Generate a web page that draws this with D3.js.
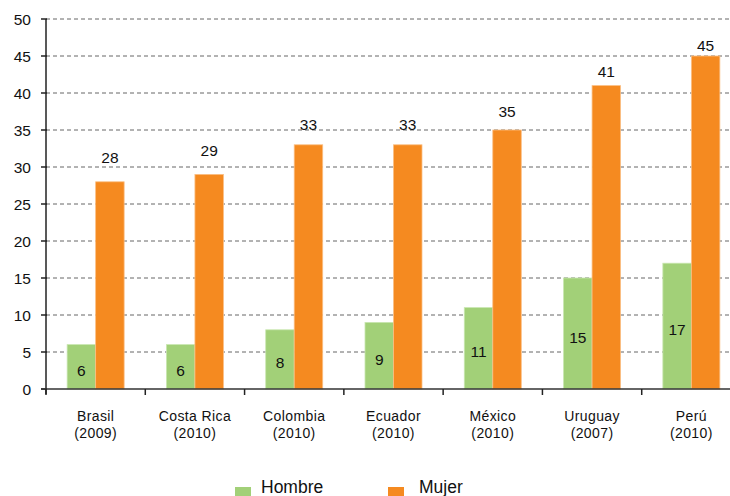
<!DOCTYPE html>
<html>
<head>
<meta charset="utf-8">
<script src="https://cdn.jsdelivr.net/npm/d3@7"></script>
<style>
  body { margin: 0; background: #fff; }
  svg { display: block; font-family: "Liberation Sans", Arial, sans-serif; }
  .grid line { stroke: #666; stroke-dasharray: 4 3; stroke-width: 1; }
</style>
</head>
<body>
<svg id="chart"></svg>
<script>
const countries = ['Brasil', 'Costa Rica', 'Colombia', 'Ecuador', 'México', 'Uruguay', 'Perú'];
const years = ['(2009)', '(2010)', '(2010)', '(2010)', '(2010)', '(2007)', '(2010)'];
const hombre = [6, 6, 8, 9, 11, 15, 17];
const mujer = [28, 29, 33, 33, 35, 41, 45];
const yTicks = [0, 5, 10, 15, 20, 25, 30, 35, 40, 45, 50];
const series = ['Hombre', 'Mujer'];
const colors = { Hombre: '#a2d078', Mujer: '#f58a20' };

const width = 730;
const height = 496;
const margin = { left: 46, top: 19, bottom: 107 };
const plotRight = 741; // last band runs past the window edge

const svg = d3.select('#chart').attr('width', width).attr('height', height);

const x0 = d3.scaleBand().domain(countries).range([margin.left, plotRight]);
const x1 = d3.scaleBand().domain(series).range([0, x0.bandwidth()])
  .paddingOuter(0.742).paddingInner(0);
const y = d3.scaleLinear().domain([0, 50]).range([height - margin.bottom, margin.top]);

// dashed gridlines
svg.append('g')
  .attr('class', 'grid')
  .selectAll('line')
  .data(yTicks.filter(t => t > 0))
  .join('line')
  .attr('x1', margin.left)
  .attr('x2', width)
  .attr('y1', d => y(d))
  .attr('y2', d => y(d));

const rows = countries.map((c, i) => ({ country: c, year: years[i], Hombre: hombre[i], Mujer: mujer[i] }));

const group = svg.append('g')
  .selectAll('g')
  .data(rows)
  .join('g')
  .attr('transform', d => `translate(${x0(d.country)},0)`);

group.selectAll('rect')
  .data(d => series.map(s => ({ key: s, value: d[s] })))
  .join('rect')
  .attr('x', d => x1(d.key))
  .attr('width', x1.bandwidth())
  .attr('y', d => y(d.value))
  .attr('height', d => y(0) - y(d.value))
  .attr('fill', d => colors[d.key])
  .attr('stroke', d => d.key === 'Hombre' ? '#c9e6b0' : '#fbbf84')
  .attr('stroke-width', 0.8);

// hombre labels sit inside the bar, mujer labels above
group.append('text')
  .attr('x', x1('Hombre') + x1.bandwidth() / 2)
  .attr('y', d => y(d.Hombre / 2) + 9)
  .attr('text-anchor', 'middle')
  .attr('font-size', 15.5)
  .attr('fill', '#111')
  .text(d => d.Hombre);

group.append('text')
  .attr('x', x1('Mujer') + x1.bandwidth() / 2)
  .attr('y', d => y(d.Mujer) - 5 - (45 - d.Mujer) * 0.82)
  .attr('text-anchor', 'middle')
  .attr('font-size', 15.5)
  .attr('fill', '#111')
  .text(d => d.Mujer);

// y axis
const yAxis = svg.append('g');
yAxis.append('line')
  .attr('x1', margin.left).attr('x2', margin.left)
  .attr('y1', y(50)).attr('y2', y(0) + 5)
  .attr('stroke', '#222').attr('stroke-width', 1.5);
yAxis.selectAll('.tick')
  .data(yTicks)
  .join('line')
  .attr('x1', margin.left - 5).attr('x2', margin.left + 1)
  .attr('y1', d => y(d)).attr('y2', d => y(d))
  .attr('stroke', '#222').attr('stroke-width', 1.5);
yAxis.selectAll('text')
  .data(yTicks)
  .join('text')
  .attr('x', 31)
  .attr('y', d => y(d))
  .attr('dy', '0.36em')
  .attr('text-anchor', 'end')
  .attr('font-size', 15.5)
  .attr('fill', '#111')
  .text(d => d);

// x axis
const xAxis = svg.append('g');
xAxis.append('line')
  .attr('x1', margin.left - 5).attr('x2', width)
  .attr('y1', y(0)).attr('y2', y(0))
  .attr('stroke', '#333').attr('stroke-width', 1.5);
xAxis.selectAll('.tick')
  .data(countries)
  .join('line')
  .attr('x1', d => x0(d)).attr('x2', d => x0(d))
  .attr('y1', y(0)).attr('y2', y(0) + 6)
  .attr('stroke', '#222').attr('stroke-width', 1.5);
const labelLines = [d => d.country, d => d.year];
labelLines.forEach((fn, k) => {
  xAxis.append('g')
    .selectAll('text')
    .data(rows)
    .join('text')
    .attr('x', d => x0(d.country) + x0.bandwidth() / 2)
    .attr('y', y(0) + 32 + k * 16.5)
    .attr('text-anchor', 'middle')
    .attr('font-size', 14)
    .attr('letter-spacing', 0.4)
    .attr('fill', '#111')
    .text(fn);
});

// legend
const legendX = [235, 388];
const legend = svg.append('g')
  .selectAll('g')
  .data(series)
  .join('g')
  .attr('transform', (d, i) => `translate(${legendX[i]},487)`);
legend.append('rect')
  .attr('width', 16).attr('height', 16)
  .attr('fill', d => colors[d]);
legend.append('text')
  .attr('x', d => d === 'Hombre' ? 26 : 31)
  .attr('y', 6)
  .attr('font-size', 17.5)
  .attr('fill', '#111')
  .text(d => d);
</script>
</body>
</html>
